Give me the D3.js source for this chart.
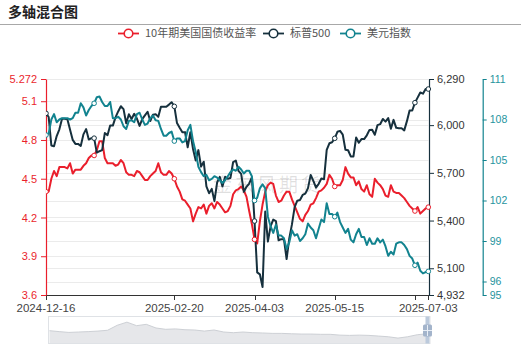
<!DOCTYPE html>
<html>
<head>
<meta charset="utf-8">
<script src="https://cdn.jsdelivr.net/npm/d3@7"></script>
<style>
  body { margin: 0; background: #fff; }
  svg { display: block; font-family: "Noto Sans CJK SC", "Noto Sans", sans-serif; }
</style>
</head>
<body>
<svg id="chart" width="521" height="350"></svg>
<script>
// ---- data ----
const firstDay = "2024-12-16";
const lastDay = "2025-07-03";

// 10-year US Treasury yield (%)
const yield10y = [
  4.40,4.40,4.50,4.56,4.52,4.59,4.59,4.59,4.58,4.62,
  4.54,4.57,4.57,4.57,4.60,4.62,4.66,4.68,4.68,4.72,
  4.79,4.79,4.66,4.62,4.62,4.62,4.60,4.61,4.645,4.62,
  4.55,4.53,4.53,4.52,4.56,4.55,4.52,4.49,4.49,4.52,
  4.54,4.56,4.62,4.55,4.53,4.53,4.56,4.54,4.50,4.44,
  4.40,4.34,4.33,4.30,4.27,4.17,4.23,4.28,4.27,4.30,
  4.23,4.29,4.31,4.27,4.32,4.30,4.27,4.24,4.25,4.29,
  4.38,4.41,4.42,4.44,4.41,4.36,4.25,4.15,4.03,4.00,
  4.17,4.30,4.40,4.45,4.47,4.46,4.37,4.32,4.33,4.37,
  4.40,4.40,4.34,4.29,4.24,4.19,4.17,4.22,4.25,4.30,
  4.31,4.35,4.40,4.41,4.43,4.46,4.53,4.50,4.44,4.45,
  4.45,4.49,4.59,4.54,4.51,4.51,4.45,4.48,4.42,4.40,
  4.45,4.38,4.36,4.50,4.47,4.45,4.42,4.37,4.36,4.45,
  4.40,4.39,4.39,4.37,4.35,4.32,4.29,4.27,4.25,4.28,
  4.23,4.25,4.27,4.28
];

// S&P 500 index
const sp500 = [
  6074,6051,5872,5867,5931,5974,6040,6040,6037,5971,
  5907,5882,5882,5869,5942,5975,5909,5918,5918,5827,
  5836,5843,5950,5937,5997,5997,6049,6086,6119,6101,
  6012,6068,6039,6071,6041,5995,6038,6061,6084,6026,
  6066,6069,6052,6115,6115,6115,6129,6144,6118,6013,
  5983,5955,5956,5861,5955,5850,5778,5843,5739,5770,
  5615,5572,5599,5522,5639,5675,5615,5675,5663,5668,
  5768,5777,5712,5693,5581,5612,5633,5671,5397,5074,
  5062,4982,5457,5268,5363,5406,5397,5276,5283,5283,
  5158,5288,5376,5485,5525,5529,5561,5569,5604,5687,
  5650,5607,5631,5664,5660,5844,5886,5892,5917,5958,
  5964,5940,5845,5842,5803,5803,5922,5889,5912,5912,
  5936,5970,5971,5939,6000,6006,6039,6022,6045,5977,
  6033,5983,5981,5981,5967,6025,6092,6092,6141,6173,
  6205,6198,6227,6227
];

// US dollar index
const dollarIndex = [
  106.85,106.95,108.0,108.4,107.8,108.0,108.1,108.1,108.1,108.0,
  108.1,108.5,108.5,109.2,108.9,108.3,108.7,109.0,109.2,109.65,
  109.7,109.3,109.0,109.0,109.3,108.1,108.1,108.2,108.0,107.5,
  107.3,107.9,107.95,107.8,108.4,108.5,108.0,107.6,107.7,108.1,
  108.3,107.95,107.9,107.3,106.8,106.8,107.0,107.1,106.4,106.6,
  106.6,106.3,106.4,107.2,107.6,106.4,105.6,104.5,104.1,103.8,
  103.9,103.5,103.6,103.8,103.7,103.5,103.3,103.5,103.8,104.1,
  104.3,104.2,104.5,104.3,104.0,104.2,104.2,103.8,102.0,102.2,
  102.9,103.2,102.9,100.8,100.1,99.6,100.2,99.4,99.4,99.2,
  98.4,98.9,99.8,99.4,99.5,99.0,99.2,99.5,100.3,100.0,
  99.8,99.2,99.9,100.6,100.4,101.8,101.0,101.0,100.8,101.1,
  100.4,100.0,99.6,99.9,99.1,98.9,99.5,99.9,99.3,99.3,
  98.7,99.2,98.8,98.8,99.2,98.9,99.1,98.6,97.9,98.2,
  98.0,98.8,98.9,98.9,98.7,98.4,97.9,97.7,97.2,97.4,
  96.8,96.6,96.7,96.75
];

// slider overview shadow (relative level, 0 = bottom, 1 = top)
const overviewShadow = [
  0.475,0.44,0.41,0.425,0.44,0.46,0.49,0.675,0.79,0.66,
  0.71,0.575,0.525,0.54,0.51,0.50,0.46,0.50,0.425,0.40,
  0.425,0.40,0.39,0.375,0.375,0.36,0.35,0.35,0.34,0.34,
  0.31,0.30,0.31,0.30,0.275,0.25,0.20,0.25,0.325,0.36
];

const seriesNames = ["10年期美国国债收益率", "标普500", "美元指数"];
const seriesColors = ["#ea1f2c", "#16303d", "#12838f"];

const yieldTicks = [3.6, 3.9, 4.2, 4.5, 4.8, 5.1, 5.272];
const spTicks = [4932, 5100, 5400, 5700, 6000, 6290];
const dollarTicks = [95, 96, 99, 102, 105, 108, 111];

const xTickDates = ["2024-12-16", "2025-02-20", "2025-04-03", "2025-05-15", "2025-06-26", "2025-07-03"];
const xLabelDates = ["2024-12-16", "2025-02-20", "2025-04-03", "2025-05-15", "2025-07-03"];
const markerDates = ["2024-12-16", "2025-01-09", "2025-02-20", "2025-04-03", "2025-05-15", "2025-06-26", "2025-07-03"];

const numberFont = "'Liberation Sans', Arial, sans-serif";

// ---- trading-day calendar (weekdays) ----
const parse = d3.utcParse("%Y-%m-%d");
const fmt = d3.utcFormat("%Y-%m-%d");
const dates = d3.utcDay.range(parse(firstDay), d3.utcDay.offset(parse(lastDay), 1))
  .filter(d => d.getUTCDay() !== 0 && d.getUTCDay() !== 6)
  .map(fmt);

// ---- layout ----
const svg = d3.select("#chart");
const plot = { left: 46, right: 428.3, top: 79, bottom: 295 };

const x = d3.scalePoint().domain(dates).range([plot.left, plot.right]);
const yYield = d3.scaleLinear().domain([3.6, 5.272]).range([plot.bottom, plot.top]);
const ySp = d3.scaleLinear().domain([4932, 6290]).range([plot.bottom, plot.top]);
const yDollar = d3.scaleLinear().domain([95, 111]).range([plot.bottom, plot.top]);

// title + separator
svg.append("text")
  .attr("x", 8).attr("y", 17)
  .attr("font-size", 14).attr("font-weight", 700).attr("fill", "#222")
  .text("多轴混合图");
svg.append("line")
  .attr("x1", 0).attr("x2", 521).attr("y1", 24.5).attr("y2", 24.5)
  .attr("stroke", "#a8a8a8").attr("stroke-width", 1);

// horizontal split lines for every value axis
const gridG = svg.append("g");
const gridYs = [
  ...yieldTicks.map(v => yYield(v)),
  ...spTicks.map(v => ySp(v)),
  ...dollarTicks.map(v => yDollar(v))
].filter(y => y < plot.bottom - 1);
gridG.selectAll("line").data(gridYs).join("line")
  .attr("x1", plot.left).attr("x2", plot.right)
  .attr("y1", d => Math.round(d) + 0.5).attr("y2", d => Math.round(d) + 0.5)
  .attr("stroke", "#ebebeb").attr("stroke-width", 1);

// watermark
svg.append("text")
  .attr("x", 213).attr("y", 192)
  .attr("font-size", 19).attr("fill", "#000").attr("fill-opacity", 0.12)
  .attr("letter-spacing", 3)
  .text("金东风期货");

// x axis
const xAxisG = svg.append("g");
xAxisG.append("line")
  .attr("x1", plot.left).attr("x2", plot.right)
  .attr("y1", plot.bottom + 0.5).attr("y2", plot.bottom + 0.5)
  .attr("stroke", "#333");
xAxisG.selectAll(".xt").data(xTickDates).join("line")
  .attr("x1", d => Math.round(x(d)) + 0.5).attr("x2", d => Math.round(x(d)) + 0.5)
  .attr("y1", plot.bottom).attr("y2", plot.bottom + 5)
  .attr("stroke", "#333");
xAxisG.selectAll("text").data(xLabelDates).join("text")
  .attr("x", d => x(d)).attr("y", 311.5)
  .attr("text-anchor", "middle").attr("font-size", 11.5).attr("fill", "#444")
  .attr("font-family", numberFont)
  .text(d => d);

// value axes
function styleAxis(g, color, textColor, size) {
  g.select(".domain").attr("stroke", color).attr("stroke-width", 1.2);
  g.selectAll(".tick line").attr("stroke", color);
  g.selectAll(".tick text").attr("fill", textColor)
    .attr("font-size", size).attr("font-family", numberFont);
}

const axL = svg.append("g").attr("transform", `translate(${plot.left},0)`)
  .call(d3.axisLeft(yYield).tickValues(yieldTicks).tickSize(5).tickSizeOuter(0).tickPadding(4)
    .tickFormat(d => d === 5.272 ? "5.272" : d3.format(".1f")(d)));
styleAxis(axL, seriesColors[0], seriesColors[0], 11);

const axR1 = svg.append("g").attr("transform", `translate(${plot.right + 0.7},0)`)
  .call(d3.axisRight(ySp).tickValues(spTicks).tickSize(5).tickSizeOuter(0).tickPadding(3)
    .tickFormat(d3.format(",")));
styleAxis(axR1, seriesColors[1], "#333", 11);

const axR2 = svg.append("g").attr("transform", "translate(482.7,0)")
  .call(d3.axisRight(yDollar).tickValues(dollarTicks).tickSize(4).tickSizeOuter(0).tickPadding(3));
styleAxis(axR2, seriesColors[2], "#1f949e", 10.5);

// series lines
svg.append("clipPath").attr("id", "plotClip")
  .append("rect").attr("x", plot.left).attr("y", plot.top - 4)
  .attr("width", plot.right - plot.left + 4).attr("height", plot.bottom - plot.top + 4);

const seriesDefs = [
  { values: yield10y, y: yYield, color: seriesColors[0] },
  { values: sp500, y: ySp, color: seriesColors[1] },
  { values: dollarIndex, y: yDollar, color: seriesColors[2] }
];

const linesG = svg.append("g").attr("clip-path", "url(#plotClip)");
seriesDefs.forEach(s => {
  const line = d3.line().x((d, i) => x(dates[i])).y(d => s.y(d));
  linesG.append("path").datum(s.values)
    .attr("d", line)
    .attr("fill", "none").attr("stroke", s.color)
    .attr("stroke-width", 2).attr("stroke-linejoin", "round").attr("stroke-linecap", "round");
});
seriesDefs.forEach(s => {
  linesG.append("g").selectAll("circle")
    .data(markerDates.map(d => ({ d, v: s.values[dates.indexOf(d)] })))
    .join("circle")
    .attr("cx", p => x(p.d)).attr("cy", p => s.y(p.v)).attr("r", 2.3)
    .attr("fill", "#fff").attr("stroke", s.color).attr("stroke-width", 1);
});

// legend
const legendItems = [
  { name: seriesNames[0], color: seriesColors[0], x: 118 },
  { name: seriesNames[1], color: seriesColors[1], x: 263 },
  { name: seriesNames[2], color: seriesColors[2], x: 340 }
];
const lg = svg.append("g").selectAll("g").data(legendItems).join("g")
  .attr("transform", d => `translate(${d.x},33.5)`);
lg.append("line").attr("x1", 0).attr("x2", 21).attr("y1", 0).attr("y2", 0)
  .attr("stroke", d => d.color).attr("stroke-width", 1.8);
lg.append("circle").attr("cx", 10.5).attr("cy", 0).attr("r", 4.3)
  .attr("fill", "#fff").attr("stroke", d => d.color).attr("stroke-width", 1.6);
lg.append("text").attr("x", 27).attr("y", 0).attr("dy", "0.35em")
  .attr("font-size", 11).attr("fill", "#555").text(d => d.name);

// data zoom slider
const slider = { left: 48.5, right: 430, top: 316.5, bottom: 343.5 };
const sx = d3.scaleLinear().domain([0, overviewShadow.length - 1]).range([slider.left + 1, slider.right - 3]);
const sy = d3.scaleLinear().domain([0, 1]).range([slider.bottom, slider.top]);
svg.append("rect")
  .attr("x", slider.left).attr("y", slider.top)
  .attr("width", slider.right - slider.left).attr("height", slider.bottom - slider.top)
  .attr("fill", "none").attr("stroke", "#dfe2e6");
svg.append("path").datum(overviewShadow)
  .attr("d", d3.area().x((d, i) => sx(i)).y0(slider.bottom - 0.5).y1(d => sy(d)))
  .attr("fill", "#e6e7ea");
svg.append("path").datum(overviewShadow)
  .attr("d", d3.line().x((d, i) => sx(i)).y(d => sy(d)))
  .attr("fill", "none").attr("stroke", "#cdd0d5").attr("stroke-width", 1);
// right handle
svg.append("rect").attr("x", 425.5).attr("y", slider.top).attr("width", 4).attr("height", slider.bottom - slider.top)
  .attr("fill", "#bccadc");
svg.append("rect").attr("x", 423).attr("y", 324.5).attr("width", 9).attr("height", 12).attr("rx", 1.5)
  .attr("fill", "#a3b4cb");
svg.append("line").attr("x1", 423).attr("x2", 432).attr("y1", 330.5).attr("y2", 330.5)
  .attr("stroke", "#e8eef6").attr("stroke-width", 1);
svg.append("line").attr("x1", 427.5).attr("x2", 427.5).attr("y1", 325).attr("y2", 336)
  .attr("stroke", "#e8eef6").attr("stroke-width", 1);
</script>
</body>
</html>
